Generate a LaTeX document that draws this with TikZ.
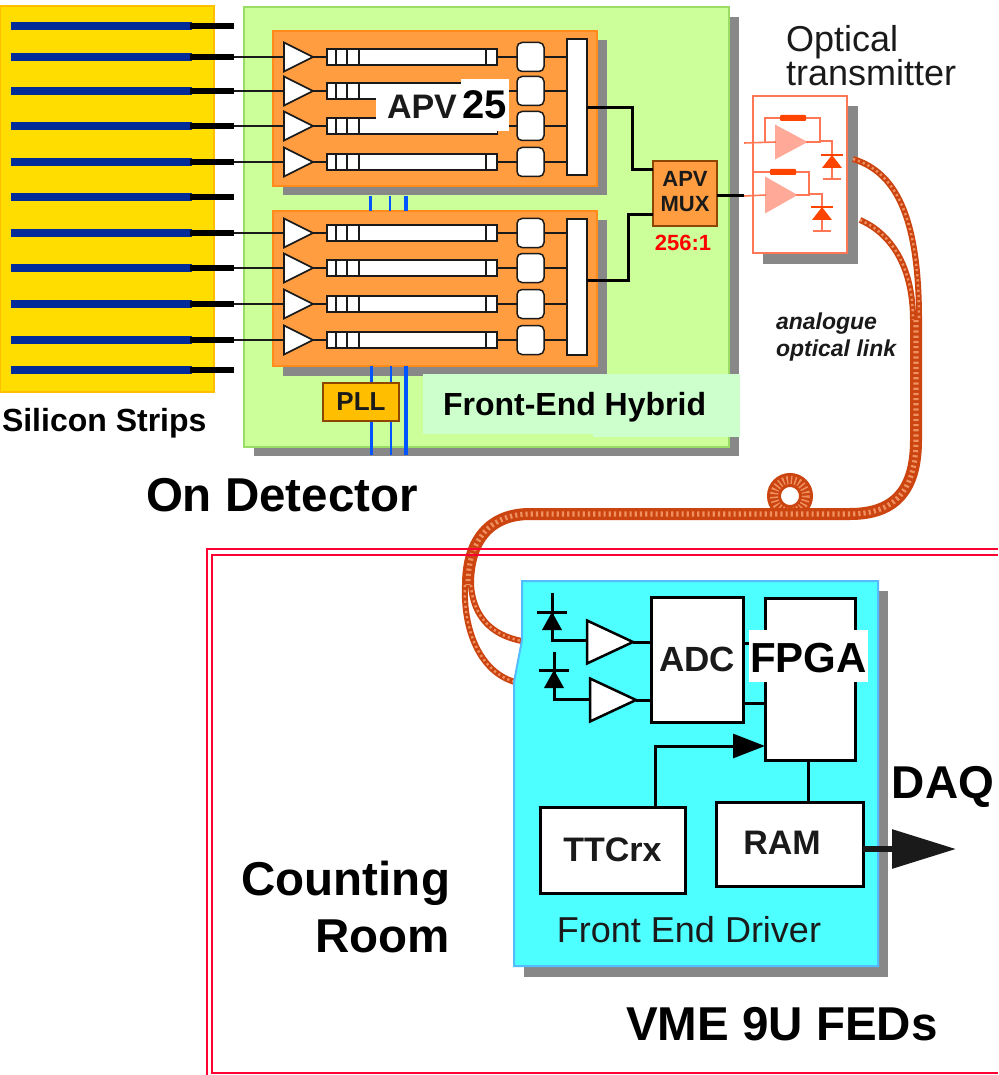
\documentclass[tikz,border=0pt]{standalone}
\usepackage{fontspec}
\setmainfont{Liberation Sans}
\usetikzlibrary{shapes.geometric,arrows.meta,calc}
\definecolor{yel}{HTML}{FFDD00}\definecolor{yelb}{HTML}{FFBF00}
\definecolor{grn}{HTML}{CCFF99}\definecolor{grnb}{HTML}{99DD66}
\definecolor{org}{HTML}{FF9D40}\definecolor{orgb}{HTML}{FF8C1A}
\definecolor{shd}{HTML}{888888}\definecolor{strip}{HTML}{002B99}
\definecolor{blu}{HTML}{0055FF}\definecolor{tx}{HTML}{FF7755}
\definecolor{txd}{HTML}{FF4400}\definecolor{txf}{HTML}{FFAA99}
\definecolor{cy}{HTML}{4DFFFF}\definecolor{cyb}{HTML}{55BBFF}
\definecolor{fib}{HTML}{CC4410}\definecolor{fibl}{HTML}{EE9060}
\definecolor{frame}{HTML}{FF0033}\definecolor{ink}{HTML}{1A1A1A}
\definecolor{lab}{HTML}{CCFFCC}
\tikzset{
 x=1pt,y=-1pt,
 plain/.style={inner sep=0,outer sep=0,draw=none},
 fsz/.style={font=\fontsize{#1}{#1}\selectfont\bfseries},
 txt/.style={plain,text=black,fsz=#1},
 amp/.style={isosceles triangle,isosceles triangle apex angle=60,isosceles triangle stretches,
   shape border rotate=0,minimum width=#1,minimum height=29,inner sep=0,outer sep=0,fill=white,draw=ink,line width=1.6,anchor=west},
 amp/.default=29,
 wire/.style={draw=ink,line width=1.6},
 heavy/.style={draw=black,line width=3},
 strippy/.style={plain,fill=strip,minimum width=181,minimum height=8},
 barbox/.style={plain,fill=white,draw=ink,line width=1.5,minimum width=170,minimum height=16},
 rnd/.style={plain,fill=white,draw=ink,line width=1.5,rounded corners=5,minimum width=27,minimum height=29},
 muxbar/.style={plain,fill=white,draw=ink,line width=1.5,minimum width=20,minimum height=136},
 ic/.style={plain,fill=white,draw=black,line width=3},
 txline/.style={draw=tx,line width=1.6},
 bluel/.style={draw=blu},
 fibre/.style={draw=fib,line width=#1,postaction={draw=fibl,line width=#1*0.42,dash pattern=on 2.2pt off 3pt}},
}
\begin{document}
\begin{tikzpicture}
\useasboundingbox (0,0) rectangle (998,1075);
\fill[white] (0,0) rectangle (998,1075);
% silicon
\node[plain,fill=yel,draw=yelb,line width=1.5,minimum width=214,minimum height=386] (si) at (107,199) {};
% hybrid
\fill[shd] (254,17) rectangle (739,456);
\node[plain,fill=grn,draw=grnb,line width=2,minimum width=485,minimum height=440] (hyb) at (486.5,227) {};
% chips
\foreach \n/\cy in {A/108.5,B/288.5}{
 \fill[shd] (283,\cy-68) rectangle (607,\cy+87);
 \node[plain,fill=org,draw=orgb,line width=1.5,minimum width=324,minimum height=155] (chip\n) at (435,\cy) {};
 \node[muxbar] (mb\n) at (577,\cy-1.5) {};
}
% strips
\foreach \i/\y in {1/26,2/57,3/91,4/126,5/162,6/197,7/233,8/268,9/304,10/340,11/370}{
 \node[strippy] (s\i) at (101.5,\y) {};
 \coordinate (t\i) at (234,\y);
 \draw[black,line width=5.5] (s\i.east) ++(-2,0) -- (t\i);
}
% channels
\foreach \i/\s/\y/\n in {1/2/57/A,2/3/91/A,3/4/126/A,4/5/162/A,5/7/233/B,6/8/268/B,7/9/304/B,8/10/340/B}{
 \node[barbox] (b\i) at (412,\y) {};
 \node[rnd] (r\i) at (530.5,\y) {};
 \node[amp] (a\i) at (284,\y) {};
 \draw[wire] (t\s) -- (a\i.west);
 \draw[wire] (a\i.east) -- (b\i.west);
 \draw[wire] (b\i.east) -- (r\i.west);
 \draw[wire] (r\i.east) -- (r\i.east -| mb\n.west);
 \foreach \tk in {336,347,359,486}{ \draw[ink,line width=1.5] (\tk,\y-8) -- (\tk,\y+8); }
}
% APV25 label patches
\fill[org] (325,100) rectangle (376,117);
\fill[white] (376,85) rectangle (497,133);
\node[plain,fill=white,minimum width=48,minimum height=52] (p25) at (485,105) {};
\node[txt=34,text=ink,anchor=west] (apv) at (387,107) {APV};
\node[txt=40,anchor=center] (n25) at (484.5,105) {25};
% blue bus
\coordinate (u1) at (370,196);\coordinate (u2) at (390,196);\coordinate (u3) at (406,196);
\coordinate (v1) at (370,211);\coordinate (v2) at (390,211);\coordinate (v3) at (406,211);
\coordinate (w1) at (371,366);\coordinate (w2) at (391,366);\coordinate (w3) at (406,366);
\coordinate (z1) at (371,455);\coordinate (z2) at (391,455);\coordinate (z3) at (406,455);
\draw[bluel,line width=3] (u1)--(v1) (w1)--(z1);
\draw[bluel,line width=2.5] (u2)--(v2) (w2)--(z2);
\draw[bluel,line width=4] (u3)--(v3) (w3)--(z3);
\node[plain,fill=yelb,draw=black!45!orange,line width=2,minimum width=76,minimum height=38,fsz=26,text=ink] (pll) at (361,402) {PLL};
% hybrid label
\fill[lab] (423,374) rectangle (740,434);
\fill[lab] (593,430) rectangle (740,437);
\node[txt=32,anchor=west] (hl) at (443,407) {Front-End Hybrid};
% MUX
\node[plain,fill=org,draw=black!45!orange,line width=2.5,minimum width=64,minimum height=65] (mux) at (685,193.5) {};
\node[plain,fsz=22,text=ink,align=center] (muxt) at (685,192) {APV\\[3pt]MUX};
\node[txt=22,text=red] (ratio) at (683,243) {256:1};
\draw[heavy] (mbA.east |- 0,108) -- (632,108) |- (mux.west |- 0,170);
\draw[heavy] (mbB.east |- 0,280) -- (628,280) |- (mux.west |- 0,215);
% transmitter
\fill[shd] (763,106) rectangle (858,264);
\node[plain,fill=white,draw=tx,line width=2,minimum width=94,minimum height=157] (tr) at (800,174.5) {};
\coordinate (in1) at (744,143);\coordinate (in2) at (744,196);
\node[amp=32,minimum height=30,fill=txf,draw=txf] (ta1) at (776,142) {};
\node[amp=34,minimum height=30,fill=txf,draw=txf] (ta2) at (766,195) {};
\draw[heavy] (mux.east |- in2) -- (in2);
\draw[txline] (in1) -- (ta1.west) (in2) -- (ta2.west);
\draw[txline] (765,143) |- (820,118) |- (ta1.east) (820,141) -| (832,180);
\draw[txline] (753,172) -- (809,172) |- (ta2.east) (809,194) -| (822,232);
\node[plain,fill=txd,minimum width=26,minimum height=6,rounded corners=1] (res1) at (793,118) {};
\node[plain,fill=txd,minimum width=26,minimum height=6,rounded corners=1] (res2) at (783,172) {};
\foreach \x/\y in {832/155,822/207}{
 \fill[txd] (\x,\y) -- ++(-10,13) -- ++(20,0) -- cycle;
 \draw[txd,line width=2] (\x-11,\y) -- (\x+11,\y);
 \draw[tx,line width=2] (\x-9,\y+24) -- (\x+9,\y+24);
}
% fibre
\coordinate (f1) at (853,159);\coordinate (f2) at (860,220);\coordinate (fj) at (916,320);
\coordinate (fjr) at (919,320);\coordinate (fjl) at (913,320);
\coordinate (f3) at (522,641);\coordinate (f4) at (515,682);\coordinate (fk) at (468,585);
\coordinate (fkr) at (471,585);\coordinate (fkl) at (465,585);
\draw[fibre=6] (f1) .. controls (895,172) and (919,215) .. (fjr);
\draw[fibre=6] (f2) .. controls (890,233) and (913,265) .. (fjl);
\draw[fibre=6] (fkr) .. controls (473,615) and (490,635) .. (f3);
\draw[fibre=6] (fkl) .. controls (463,630) and (480,672) .. (f4);
\draw[fib,line width=14] (790,496) circle (16);
\draw[fibl,line width=8,dash pattern=on 1.5pt off 2.5pt] (790,496) circle (16);
\draw[fibre=12] (fj) -- (916,440) .. controls (916,490) and (895,514) .. (850,514) -- (530,514) .. controls (490,514) and (468,540) .. (fk);
% counting room frame
\draw[frame,line width=1.6] (998,549) -- (207,549) -- (207,1075);
\draw[frame,line width=1.6] (998,555) -- (212,555) -- (212,1073) -- (998,1073);
% FED
\fill[shd] (524,591) rectangle (888,977);
\path[fill=cy,draw=cyb,line width=2] (522,581) -- (878,581) -- (878,966) -- (514,966) -- (514,682) -- (522,640) -- cycle;
% FED contents
\node[ic,minimum width=92,minimum height=125,fsz=35,text=ink] (adc) at (697,659.5) {ADC};
\node[ic,minimum width=90,minimum height=162] (fpga) at (810,679) {};
\node[amp=43,minimum height=46,draw=black,line width=2.5] (fa1) at (587,642) {};
\node[amp=43,minimum height=46,draw=black,line width=2.5] (fa2) at (590,700) {};
\coordinate (d1) at (552,593);\coordinate (d2) at (554,652);
\coordinate (e1) at (552,640);\coordinate (e2) at (554,699);
\draw[heavy] (d1) -- (e1) -- (fa1.west |- e1);
\draw[heavy] (d2) -- (e2) -- (fa2.west |- e2);
\foreach \x/\y in {552/612,554/670}{
 \fill[black] (\x,\y) -- ++(-10,18) -- ++(20,0) -- cycle;
 \draw[black,line width=3] (\x-15,\y) -- (\x+15,\y);
}
\draw[heavy] (fa1.east) -- (adc.west |- fa1.east);
\draw[heavy] (fa2.east) -- (adc.west |- fa2.east);
\draw[heavy] (adc.east |- 0,643) -- (fpga.west |- 0,643);
\draw[heavy] (adc.east |- 0,703) -- (fpga.west |- 0,703);
\node[plain,fill=white,minimum width=119,minimum height=52] (fpl) at (808.5,656) {};
\node[txt=42] (fpgat) at (808.5,658) {FPGA};
\node[ic,minimum width=145,minimum height=86,fsz=34,text=ink] (ttc) at (612.5,850) {TTCrx};
\node[ic,minimum width=147,minimum height=84] (ram) at (789.5,844) {};
\node[txt=34,text=ink] (ramt) at (782,843) {RAM};
\draw[heavy] (fpga.south -| 808,0) -- (ram.north -| 808,0);
\draw[heavy,-{Triangle[length=32,width=24]}] (ttc.north -| 655,0) |- (fpga.west |- 0,746);
\draw[draw=ink,line width=6,-{Triangle[length=64,width=38]}] (ram.east |- 0,849) -- (956,849);
% labels
\node[plain,font=\fontsize{36}{36}\selectfont,text=ink,anchor=center] (fedl) at (689,930) {Front End Driver};
\node[plain,font=\fontsize{36}{34}\selectfont,text=ink,anchor=north west,align=left] (otx) at (786,25) {Optical\\transmitter};
\node[plain,font=\fontsize{23}{27}\selectfont\bfseries\itshape,text=ink,anchor=west,align=left] (oln) at (776,337) {analogue\\optical link};
\node[txt=32,anchor=west] (sil) at (2,423) {Silicon Strips};
\node[txt=47.5,anchor=west] (ond) at (146,495) {On Detector};
\node[txt=47.5,anchor=north east,align=right,font=\fontsize{47.5}{57}\selectfont\bfseries] (cr) at (450,861) {Counting\\Room};
\node[txt=47.5] (vme) at (782,1024) {VME 9U FEDs};
\node[txt=46] (daq) at (943,787) {DAQ};
\end{tikzpicture}
\end{document}
